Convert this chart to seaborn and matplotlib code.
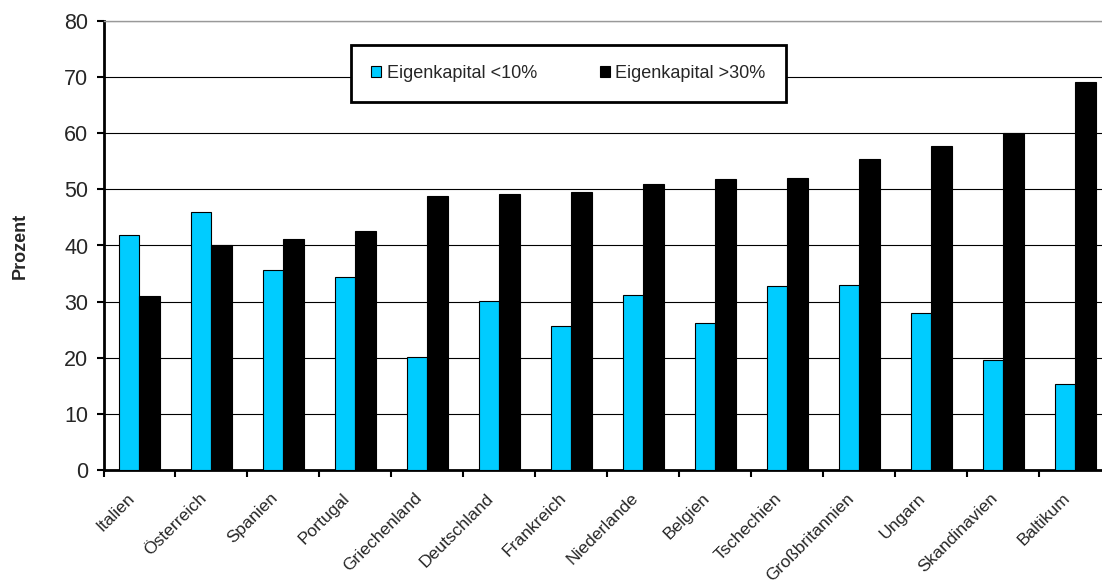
import pandas as pd
import numpy as np
import matplotlib
matplotlib.use("Agg")
import matplotlib.pyplot as plt
import matplotlib.transforms as mtransforms
import seaborn as sns
from matplotlib.patches import Patch

laender = ["Italien", "Österreich", "Spanien", "Portugal", "Griechenland", "Deutschland",
           "Frankreich", "Niederlande", "Belgien", "Tschechien", "Großbritannien",
           "Ungarn", "Skandinavien", "Baltikum"]
ek_unter10 = [41.9, 45.9, 35.6, 34.4, 20.2, 30.2, 25.6, 31.2, 26.2, 32.8, 32.9, 28.0, 19.6, 15.3]
ek_ueber30 = [31.0, 40.0, 41.2, 42.5, 48.8, 49.2, 49.5, 51.0, 51.8, 52.1, 55.4, 57.8, 60.0, 69.2]
serien = ["Eigenkapital <10%", "Eigenkapital >30%"]
farben = {"Eigenkapital <10%": "#00CCFF", "Eigenkapital >30%": "#000000"}

df = pd.DataFrame({
    "Land": laender * 2,
    "Serie": [serien[0]] * len(laender) + [serien[1]] * len(laender),
    "Prozent": ek_unter10 + ek_ueber30,
})

sns.set_style("white")
plt.rcParams["font.family"] = ["Liberation Sans", "DejaVu Sans"]

fig = plt.figure(figsize=(11.02, 5.86), dpi=100)
ax = fig.add_axes([103.5 / 1102, 116 / 586, (1111 - 103.5) / 1102, 449 / 586])

sns.barplot(data=df, x="Land", y="Prozent", hue="Serie", hue_order=serien,
            palette=farben, saturation=1, width=0.57, edgecolor="black", linewidth=0.8,
            legend=False, ax=ax, zorder=3)

ax.set_xlim(-0.5, len(laender) - 0.5)
ax.set_ylim(0, 80)
ax.set_yticks(np.arange(0, 81, 10))
ax.yaxis.grid(True, color="black", linewidth=0.8)
ax.set_axisbelow(True)

for s in ["left", "bottom"]:
    ax.spines[s].set_linewidth(2)
    ax.spines[s].set_color("black")
ax.spines["right"].set_visible(False)
ax.spines["top"].set_color("#999999")
ax.spines["top"].set_linewidth(1)

ax.tick_params(axis="y", direction="out", length=5, width=1.5, color="black",
               labelsize=15.5, pad=6, left=True)
ax.set_xticks(range(len(laender)))
ax.set_xticklabels(laender, rotation=45, ha="right", rotation_mode="anchor", fontsize=12.6)
ax.tick_params(axis="x", which="major", length=0, pad=14)
ax.set_xticks(np.arange(-0.5, len(laender), 1), minor=True)
ax.tick_params(axis="x", which="minor", direction="out", length=5, width=1.5,
               color="black", bottom=True)

# Beschriftung etwas nach links schieben wie im Original
versatz = mtransforms.ScaledTranslation(-13 / 100, -1 / 100, fig.dpi_scale_trans)
for lbl in ax.get_xticklabels():
    lbl.set_transform(lbl.get_transform() + versatz)

ax.set_xlabel("")
ax.set_ylabel("Prozent", fontsize=13, fontweight="bold")
ax.yaxis.set_label_coords((29 - 103.5) / 1007.5, 0.5)

handles = [Patch(facecolor=farben[s], edgecolor="black", linewidth=0.8) for s in serien]
leg = fig.legend(handles, serien, loc="center", bbox_to_anchor=(568.5 / 1102, 1 - 73.5 / 586),
                 ncol=2, fontsize=13, frameon=True, fancybox=False, shadow=False,
                 handlelength=0.55, handleheight=0.55, handletextpad=0.3,
                 columnspacing=3.5, borderpad=1.12)
leg.get_frame().set_edgecolor("black")
leg.get_frame().set_linewidth(2)
leg.get_frame().set_facecolor("white")
leg.get_frame().set_alpha(1)

fig.savefig("out.png", dpi=100)
